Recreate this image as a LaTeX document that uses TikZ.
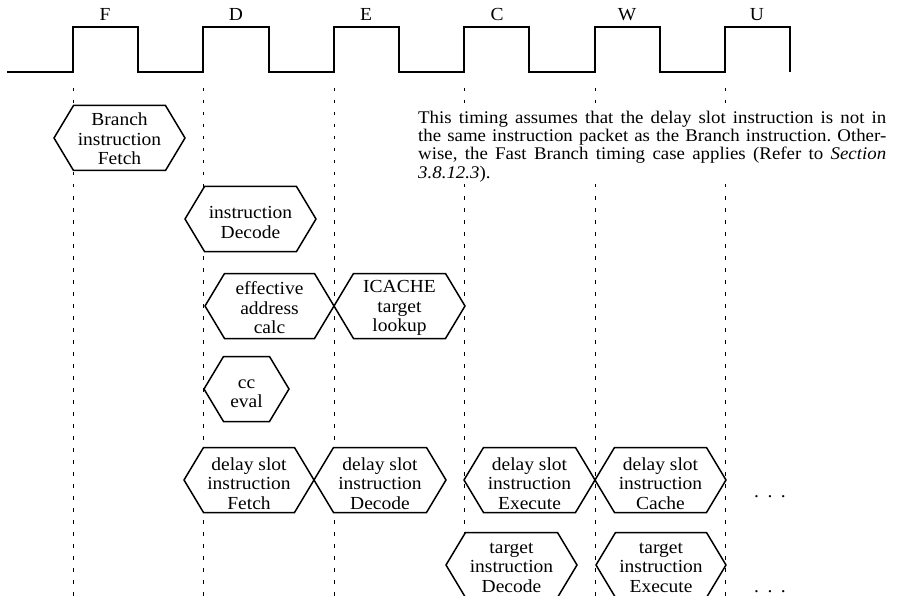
\documentclass[tikz,border=0pt]{standalone}
\usepackage{fontspec}
\setmainfont[FakeStretch=1.06]{Liberation Serif}

% hexagonal stage box: [text drop], name, left tip x, right tip x, centre y, text
\newcommand\stagehex[6][3.5]{%
  \draw[hexline] (#3,#5) -- (#3+19.5,#5-32.5) -- (#4-19.5,#5-32.5) -- (#4,#5)
    -- (#4-19.5,#5+32.5) -- (#3+19.5,#5+32.5) -- cycle;
  \node[hextext] (#2) at ({(#3+#4)/2},#5+#1) {#6};
}

\begin{document}
\frenchspacing
\begin{tikzpicture}[x=1pt,y=-1pt,
  wave/.style={line width=1.5pt, line join=miter},
  cycleline/.style={line width=0.9pt, dash pattern=on 3.5pt off 8.5pt},
  hexline/.style={line width=1.5pt, fill=white, line join=miter},
  hextext/.style={align=center, inner sep=0pt, font=\fontsize{18.4}{19.5}\selectfont},
  phase/.style={anchor=base, inner sep=0pt, font=\fontsize{18.4}{19.5}\selectfont},
  dots/.style={anchor=base, inner sep=0pt, font=\fontsize{18.4}{19.5}\selectfont}]

\useasboundingbox (0,0) rectangle (904,596);

% clock waveform
\draw[wave] (7,72)
  \foreach \r/\f/\n in {73/138/203, 203/269/334, 334/399/464, 464/529/595, 595/660/725}
    { -- (\r,72) -- (\r,27) -- (\f,27) -- (\f,72) -- (\n,72) }
  -- (725,27) -- (790,27) -- (790,72);

% phase labels
\foreach \x/\l in {105/F, 236/D, 366/E, 497/C, 627/W, 757/U}
  \node[phase] (lab\l) at (\x,21) {\l};

% cycle boundaries
\foreach \x [count=\i] in {73,203,334,464,595,725} {
  \coordinate (top\i) at (\x,88);
  \coordinate (bot\i) at (\x,596);
  \draw[cycleline] (top\i) -- (bot\i);
}

% pipeline stages
\stagehex[1]{brfetch}{54}{185}{138}{Branch\\instruction\\Fetch}
\stagehex{idecode}{185}{316}{219}{instruction\\Decode}
\stagehex[2]{eacalc}{205}{334}{306}{effective\\address\\calc}
\stagehex[2]{icache}{334}{465}{306}{ICACHE\\target\\lookup}
\stagehex[5]{cceval}{204}{289}{389}{cc\\eval}
\stagehex{dsfetch}{184}{314}{480}{delay slot\\instruction\\Fetch}
\stagehex{dsdecode}{314}{446}{480}{delay slot\\instruction\\Decode}
\stagehex{dsexec}{464}{595}{480}{delay slot\\instruction\\Execute}
\stagehex{dscache}{595}{726}{480}{delay slot\\instruction\\Cache}
\stagehex[2.5]{tgdecode}{446}{577}{565}{target\\instruction\\Decode}
\stagehex[2.5]{tgexec}{596}{726}{565}{target\\instruction\\Execute}

% continuation marks
\node[dots] (more1) at (770,497) {.\hspace{8.5pt}.\hspace{8.5pt}.};
\node[dots] (more2) at (770,592) {.\hspace{8.5pt}.\hspace{8.5pt}.};

% note
\node[anchor=north west, inner sep=1pt, fill=white, align=left,
      font=\fontsize{17.8}{18.4}\selectfont] (note) at (417,109.5) {%
\makebox[468pt][s]{This timing assumes that the delay slot instruction is not in}\\
\makebox[468pt][s]{the same instruction packet as the Branch instruction. Other-}\\
\makebox[468pt][s]{wise, the Fast Branch timing case applies (Refer to \textit{Section}}\\
\textit{3.8.12.3}).};

\end{tikzpicture}
\end{document}
